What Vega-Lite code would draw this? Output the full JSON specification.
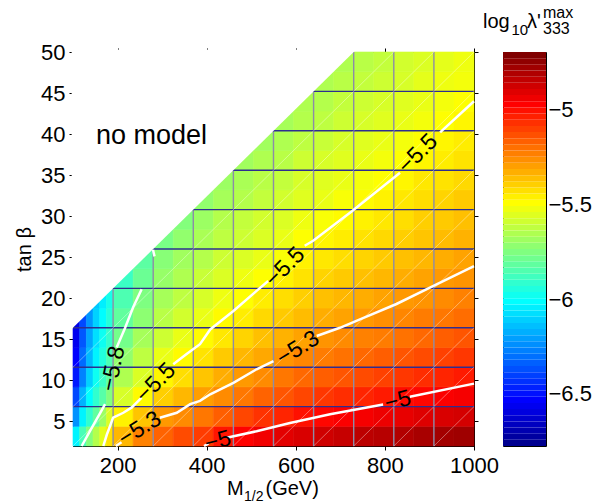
{
  "$schema": "https://vega.github.io/schema/vega-lite/v6.json",
  "background": "white",
  "padding": {"left": 14, "top": 4, "right": 0, "bottom": 0},
  "bounds": "flush",
  "spacing": 29,
  "config": {
    "font": "Liberation Sans",
    "view": {"stroke": "black", "strokeWidth": 1},
    "axis": {"grid": false, "domainColor": "black", "tickColor": "black", "labelColor": "black", "labelFont": "Liberation Sans", "labelFontSize": 22, "titleFont": "Liberation Sans", "titleFontSize": 20, "titleColor": "black", "titleFontWeight": "normal", "tickSize": 4, "zindex": 1, "labelFlush": false, "labelOverlap": false},
    "text": {"font": "Liberation Sans", "color": "black"}
  },
  "datasets": {
    "heat": [
      {"x":100,"x2":115,"y":2,"y2":4.4,"v":-6.05},{"x":100,"x2":115,"y":4.4,"y2":6.8,"v":-6.25},{"x":100,"x2":115,"y":6.8,"y2":9.2,"v":-6.4},{"x":100,"x2":115,"y":9.2,"y2":11.6,"v":-6.5},{"x":100,"x2":115,"y":11.6,"y2":14,"v":-6.55},{"x":100,"x2":115,"y":14,"y2":16.4,"v":-6.58},{"x":100,"x2":115,"y":16.4,"y2":18.8,"v":-6.6},
      {"x":115,"x2":130,"y":2,"y2":4.4,"v":-5.88},{"x":115,"x2":130,"y":4.4,"y2":6.8,"v":-6.05},{"x":115,"x2":130,"y":6.8,"y2":9.2,"v":-6.18},{"x":115,"x2":130,"y":9.2,"y2":11.6,"v":-6.28},{"x":115,"x2":130,"y":11.6,"y2":14,"v":-6.33},{"x":115,"x2":130,"y":14,"y2":16.4,"v":-6.37},{"x":115,"x2":130,"y":16.4,"y2":18.8,"v":-6.4},
      {"x":130,"x2":145,"y":2,"y2":4.4,"v":-5.76},{"x":130,"x2":145,"y":4.4,"y2":6.8,"v":-5.93},{"x":130,"x2":145,"y":6.8,"y2":9.2,"v":-6.03},{"x":130,"x2":145,"y":9.2,"y2":11.6,"v":-6.12},{"x":130,"x2":145,"y":11.6,"y2":14,"v":-6.17},{"x":130,"x2":145,"y":14,"y2":16.4,"v":-6.21},{"x":130,"x2":145,"y":16.4,"y2":18.8,"v":-6.24},
      {"x":145,"x2":160,"y":2,"y2":4.4,"v":-5.66},{"x":145,"x2":160,"y":4.4,"y2":6.8,"v":-5.83},{"x":145,"x2":160,"y":6.8,"y2":9.2,"v":-5.93},{"x":145,"x2":160,"y":9.2,"y2":11.6,"v":-6.0},{"x":145,"x2":160,"y":11.6,"y2":14,"v":-6.05},{"x":145,"x2":160,"y":14,"y2":16.4,"v":-6.09},{"x":145,"x2":160,"y":16.4,"y2":18.8,"v":-6.12},{"x":145,"x2":160,"y":18.8,"y2":21.2,"v":-6.14},
      {"x":160,"x2":175,"y":2,"y2":4.4,"v":-5.56},{"x":160,"x2":175,"y":4.4,"y2":6.8,"v":-5.71},{"x":160,"x2":175,"y":6.8,"y2":9.2,"v":-5.85},{"x":160,"x2":175,"y":9.2,"y2":11.6,"v":-5.91},{"x":160,"x2":175,"y":11.6,"y2":14,"v":-5.96},{"x":160,"x2":175,"y":14,"y2":16.4,"v":-6.0},{"x":160,"x2":175,"y":16.4,"y2":18.8,"v":-6.03},{"x":160,"x2":175,"y":18.8,"y2":21.2,"v":-6.06},
      {"x":175,"x2":190,"y":2,"y2":4.4,"v":-5.45},{"x":175,"x2":190,"y":4.4,"y2":6.8,"v":-5.58},{"x":175,"x2":190,"y":6.8,"y2":9.2,"v":-5.76},{"x":175,"x2":190,"y":9.2,"y2":11.6,"v":-5.83},{"x":175,"x2":190,"y":11.6,"y2":14,"v":-5.87},{"x":175,"x2":190,"y":14,"y2":16.4,"v":-5.92},{"x":175,"x2":190,"y":16.4,"y2":18.8,"v":-5.95},{"x":175,"x2":190,"y":18.8,"y2":21.2,"v":-5.98},
      {"x":190,"x2":235,"y":2,"y2":4.4,"v":-5.36},{"x":190,"x2":235,"y":4.4,"y2":6.8,"v":-5.48},{"x":190,"x2":235,"y":6.8,"y2":9.2,"v":-5.59},{"x":190,"x2":235,"y":9.2,"y2":11.6,"v":-5.67},{"x":190,"x2":235,"y":11.6,"y2":14,"v":-5.73},{"x":190,"x2":235,"y":14,"y2":16.4,"v":-5.79},{"x":190,"x2":235,"y":16.4,"y2":18.8,"v":-5.83},{"x":190,"x2":235,"y":18.8,"y2":21.2,"v":-5.87},{"x":190,"x2":235,"y":21.2,"y2":23.6,"v":-5.91},
      {"x":235,"x2":280,"y":2,"y2":4.4,"v":-5.25},{"x":235,"x2":280,"y":4.4,"y2":6.8,"v":-5.39},{"x":235,"x2":280,"y":6.8,"y2":9.2,"v":-5.5},{"x":235,"x2":280,"y":9.2,"y2":11.6,"v":-5.58},{"x":235,"x2":280,"y":11.6,"y2":14,"v":-5.64},{"x":235,"x2":280,"y":14,"y2":16.4,"v":-5.69},{"x":235,"x2":280,"y":16.4,"y2":18.8,"v":-5.74},{"x":235,"x2":280,"y":18.8,"y2":21.2,"v":-5.77},{"x":235,"x2":280,"y":21.2,"y2":23.6,"v":-5.81},{"x":235,"x2":280,"y":23.6,"y2":26,"v":-5.84},
      {"x":280,"x2":325,"y":2,"y2":4.4,"v":-5.19},{"x":280,"x2":325,"y":4.4,"y2":6.8,"v":-5.3},{"x":280,"x2":325,"y":6.8,"y2":9.2,"v":-5.41},{"x":280,"x2":325,"y":9.2,"y2":11.6,"v":-5.49},{"x":280,"x2":325,"y":11.6,"y2":14,"v":-5.55},{"x":280,"x2":325,"y":14,"y2":16.4,"v":-5.61},{"x":280,"x2":325,"y":16.4,"y2":18.8,"v":-5.65},{"x":280,"x2":325,"y":18.8,"y2":21.2,"v":-5.69},{"x":280,"x2":325,"y":21.2,"y2":23.6,"v":-5.72},{"x":280,"x2":325,"y":23.6,"y2":26,"v":-5.75},{"x":280,"x2":325,"y":26,"y2":28.4,"v":-5.78},
      {"x":325,"x2":370,"y":2,"y2":4.4,"v":-5.14},{"x":325,"x2":370,"y":4.4,"y2":6.8,"v":-5.27},{"x":325,"x2":370,"y":6.8,"y2":9.2,"v":-5.36},{"x":325,"x2":370,"y":9.2,"y2":11.6,"v":-5.44},{"x":325,"x2":370,"y":11.6,"y2":14,"v":-5.5},{"x":325,"x2":370,"y":14,"y2":16.4,"v":-5.55},{"x":325,"x2":370,"y":16.4,"y2":18.8,"v":-5.6},{"x":325,"x2":370,"y":18.8,"y2":21.2,"v":-5.64},{"x":325,"x2":370,"y":21.2,"y2":23.6,"v":-5.67},{"x":325,"x2":370,"y":23.6,"y2":26,"v":-5.7},{"x":325,"x2":370,"y":26,"y2":28.4,"v":-5.73},{"x":325,"x2":370,"y":28.4,"y2":30.8,"v":-5.76},
      {"x":370,"x2":415,"y":2,"y2":4.4,"v":-5.11},{"x":370,"x2":415,"y":4.4,"y2":6.8,"v":-5.23},{"x":370,"x2":415,"y":6.8,"y2":9.2,"v":-5.31},{"x":370,"x2":415,"y":9.2,"y2":11.6,"v":-5.39},{"x":370,"x2":415,"y":11.6,"y2":14,"v":-5.45},{"x":370,"x2":415,"y":14,"y2":16.4,"v":-5.5},{"x":370,"x2":415,"y":16.4,"y2":18.8,"v":-5.55},{"x":370,"x2":415,"y":18.8,"y2":21.2,"v":-5.59},{"x":370,"x2":415,"y":21.2,"y2":23.6,"v":-5.62},{"x":370,"x2":415,"y":23.6,"y2":26,"v":-5.66},{"x":370,"x2":415,"y":26,"y2":28.4,"v":-5.68},{"x":370,"x2":415,"y":28.4,"y2":30.8,"v":-5.71},{"x":370,"x2":415,"y":30.8,"y2":33.2,"v":-5.73},
      {"x":415,"x2":460,"y":2,"y2":4.4,"v":-5.03},{"x":415,"x2":460,"y":4.4,"y2":6.8,"v":-5.18},{"x":415,"x2":460,"y":6.8,"y2":9.2,"v":-5.27},{"x":415,"x2":460,"y":9.2,"y2":11.6,"v":-5.34},{"x":415,"x2":460,"y":11.6,"y2":14,"v":-5.4},{"x":415,"x2":460,"y":14,"y2":16.4,"v":-5.46},{"x":415,"x2":460,"y":16.4,"y2":18.8,"v":-5.5},{"x":415,"x2":460,"y":18.8,"y2":21.2,"v":-5.54},{"x":415,"x2":460,"y":21.2,"y2":23.6,"v":-5.58},{"x":415,"x2":460,"y":23.6,"y2":26,"v":-5.61},{"x":415,"x2":460,"y":26,"y2":28.4,"v":-5.64},{"x":415,"x2":460,"y":28.4,"y2":30.8,"v":-5.66},{"x":415,"x2":460,"y":30.8,"y2":33.2,"v":-5.69},{"x":415,"x2":460,"y":33.2,"y2":35.6,"v":-5.71},
      {"x":460,"x2":505,"y":2,"y2":4.4,"v":-4.99},{"x":460,"x2":505,"y":4.4,"y2":6.8,"v":-5.13},{"x":460,"x2":505,"y":6.8,"y2":9.2,"v":-5.23},{"x":460,"x2":505,"y":9.2,"y2":11.6,"v":-5.3},{"x":460,"x2":505,"y":11.6,"y2":14,"v":-5.36},{"x":460,"x2":505,"y":14,"y2":16.4,"v":-5.42},{"x":460,"x2":505,"y":16.4,"y2":18.8,"v":-5.47},{"x":460,"x2":505,"y":18.8,"y2":21.2,"v":-5.51},{"x":460,"x2":505,"y":21.2,"y2":23.6,"v":-5.54},{"x":460,"x2":505,"y":23.6,"y2":26,"v":-5.58},{"x":460,"x2":505,"y":26,"y2":28.4,"v":-5.61},{"x":460,"x2":505,"y":28.4,"y2":30.8,"v":-5.63},{"x":460,"x2":505,"y":30.8,"y2":33.2,"v":-5.66},{"x":460,"x2":505,"y":33.2,"y2":35.6,"v":-5.68},{"x":460,"x2":505,"y":35.6,"y2":38,"v":-5.7},
      {"x":505,"x2":550,"y":2,"y2":4.4,"v":-4.96},{"x":505,"x2":550,"y":4.4,"y2":6.8,"v":-5.09},{"x":505,"x2":550,"y":6.8,"y2":9.2,"v":-5.19},{"x":505,"x2":550,"y":9.2,"y2":11.6,"v":-5.27},{"x":505,"x2":550,"y":11.6,"y2":14,"v":-5.33},{"x":505,"x2":550,"y":14,"y2":16.4,"v":-5.38},{"x":505,"x2":550,"y":16.4,"y2":18.8,"v":-5.43},{"x":505,"x2":550,"y":18.8,"y2":21.2,"v":-5.47},{"x":505,"x2":550,"y":21.2,"y2":23.6,"v":-5.51},{"x":505,"x2":550,"y":23.6,"y2":26,"v":-5.55},{"x":505,"x2":550,"y":26,"y2":28.4,"v":-5.58},{"x":505,"x2":550,"y":28.4,"y2":30.8,"v":-5.6},{"x":505,"x2":550,"y":30.8,"y2":33.2,"v":-5.63},{"x":505,"x2":550,"y":33.2,"y2":35.6,"v":-5.65},{"x":505,"x2":550,"y":35.6,"y2":38,"v":-5.67},{"x":505,"x2":550,"y":38,"y2":40.4,"v":-5.7},
      {"x":550,"x2":595,"y":2,"y2":4.4,"v":-4.93},{"x":550,"x2":595,"y":4.4,"y2":6.8,"v":-5.06},{"x":550,"x2":595,"y":6.8,"y2":9.2,"v":-5.16},{"x":550,"x2":595,"y":9.2,"y2":11.6,"v":-5.23},{"x":550,"x2":595,"y":11.6,"y2":14,"v":-5.29},{"x":550,"x2":595,"y":14,"y2":16.4,"v":-5.35},{"x":550,"x2":595,"y":16.4,"y2":18.8,"v":-5.4},{"x":550,"x2":595,"y":18.8,"y2":21.2,"v":-5.44},{"x":550,"x2":595,"y":21.2,"y2":23.6,"v":-5.48},{"x":550,"x2":595,"y":23.6,"y2":26,"v":-5.52},{"x":550,"x2":595,"y":26,"y2":28.4,"v":-5.55},{"x":550,"x2":595,"y":28.4,"y2":30.8,"v":-5.58},{"x":550,"x2":595,"y":30.8,"y2":33.2,"v":-5.6},{"x":550,"x2":595,"y":33.2,"y2":35.6,"v":-5.63},{"x":550,"x2":595,"y":35.6,"y2":38,"v":-5.65},{"x":550,"x2":595,"y":38,"y2":40.4,"v":-5.67},{"x":550,"x2":595,"y":40.4,"y2":42.8,"v":-5.69},
      {"x":595,"x2":640,"y":2,"y2":4.4,"v":-4.91},{"x":595,"x2":640,"y":4.4,"y2":6.8,"v":-5.02},{"x":595,"x2":640,"y":6.8,"y2":9.2,"v":-5.13},{"x":595,"x2":640,"y":9.2,"y2":11.6,"v":-5.2},{"x":595,"x2":640,"y":11.6,"y2":14,"v":-5.26},{"x":595,"x2":640,"y":14,"y2":16.4,"v":-5.32},{"x":595,"x2":640,"y":16.4,"y2":18.8,"v":-5.37},{"x":595,"x2":640,"y":18.8,"y2":21.2,"v":-5.41},{"x":595,"x2":640,"y":21.2,"y2":23.6,"v":-5.45},{"x":595,"x2":640,"y":23.6,"y2":26,"v":-5.48},{"x":595,"x2":640,"y":26,"y2":28.4,"v":-5.51},{"x":595,"x2":640,"y":28.4,"y2":30.8,"v":-5.54},{"x":595,"x2":640,"y":30.8,"y2":33.2,"v":-5.57},{"x":595,"x2":640,"y":33.2,"y2":35.6,"v":-5.59},{"x":595,"x2":640,"y":35.6,"y2":38,"v":-5.61},{"x":595,"x2":640,"y":38,"y2":40.4,"v":-5.64},{"x":595,"x2":640,"y":40.4,"y2":42.8,"v":-5.66},{"x":595,"x2":640,"y":42.8,"y2":45.2,"v":-5.67},
      {"x":640,"x2":685,"y":2,"y2":4.4,"v":-4.89},{"x":640,"x2":685,"y":4.4,"y2":6.8,"v":-5.0},{"x":640,"x2":685,"y":6.8,"y2":9.2,"v":-5.1},{"x":640,"x2":685,"y":9.2,"y2":11.6,"v":-5.18},{"x":640,"x2":685,"y":11.6,"y2":14,"v":-5.24},{"x":640,"x2":685,"y":14,"y2":16.4,"v":-5.29},{"x":640,"x2":685,"y":16.4,"y2":18.8,"v":-5.34},{"x":640,"x2":685,"y":18.8,"y2":21.2,"v":-5.38},{"x":640,"x2":685,"y":21.2,"y2":23.6,"v":-5.42},{"x":640,"x2":685,"y":23.6,"y2":26,"v":-5.46},{"x":640,"x2":685,"y":26,"y2":28.4,"v":-5.49},{"x":640,"x2":685,"y":28.4,"y2":30.8,"v":-5.52},{"x":640,"x2":685,"y":30.8,"y2":33.2,"v":-5.55},{"x":640,"x2":685,"y":33.2,"y2":35.6,"v":-5.57},{"x":640,"x2":685,"y":35.6,"y2":38,"v":-5.59},{"x":640,"x2":685,"y":38,"y2":40.4,"v":-5.62},{"x":640,"x2":685,"y":40.4,"y2":42.8,"v":-5.64},{"x":640,"x2":685,"y":42.8,"y2":45.2,"v":-5.66},{"x":640,"x2":685,"y":45.2,"y2":47.6,"v":-5.67},
      {"x":685,"x2":730,"y":2,"y2":4.4,"v":-4.87},{"x":685,"x2":730,"y":4.4,"y2":6.8,"v":-4.98},{"x":685,"x2":730,"y":6.8,"y2":9.2,"v":-5.08},{"x":685,"x2":730,"y":9.2,"y2":11.6,"v":-5.16},{"x":685,"x2":730,"y":11.6,"y2":14,"v":-5.22},{"x":685,"x2":730,"y":14,"y2":16.4,"v":-5.27},{"x":685,"x2":730,"y":16.4,"y2":18.8,"v":-5.32},{"x":685,"x2":730,"y":18.8,"y2":21.2,"v":-5.36},{"x":685,"x2":730,"y":21.2,"y2":23.6,"v":-5.4},{"x":685,"x2":730,"y":23.6,"y2":26,"v":-5.44},{"x":685,"x2":730,"y":26,"y2":28.4,"v":-5.47},{"x":685,"x2":730,"y":28.4,"y2":30.8,"v":-5.5},{"x":685,"x2":730,"y":30.8,"y2":33.2,"v":-5.52},{"x":685,"x2":730,"y":33.2,"y2":35.6,"v":-5.55},{"x":685,"x2":730,"y":35.6,"y2":38,"v":-5.57},{"x":685,"x2":730,"y":38,"y2":40.4,"v":-5.59},{"x":685,"x2":730,"y":40.4,"y2":42.8,"v":-5.61},{"x":685,"x2":730,"y":42.8,"y2":45.2,"v":-5.63},{"x":685,"x2":730,"y":45.2,"y2":47.6,"v":-5.65},{"x":685,"x2":730,"y":47.6,"y2":50,"v":-5.67},
      {"x":730,"x2":775,"y":2,"y2":4.4,"v":-4.85},{"x":730,"x2":775,"y":4.4,"y2":6.8,"v":-4.97},{"x":730,"x2":775,"y":6.8,"y2":9.2,"v":-5.06},{"x":730,"x2":775,"y":9.2,"y2":11.6,"v":-5.14},{"x":730,"x2":775,"y":11.6,"y2":14,"v":-5.2},{"x":730,"x2":775,"y":14,"y2":16.4,"v":-5.25},{"x":730,"x2":775,"y":16.4,"y2":18.8,"v":-5.3},{"x":730,"x2":775,"y":18.8,"y2":21.2,"v":-5.34},{"x":730,"x2":775,"y":21.2,"y2":23.6,"v":-5.38},{"x":730,"x2":775,"y":23.6,"y2":26,"v":-5.42},{"x":730,"x2":775,"y":26,"y2":28.4,"v":-5.45},{"x":730,"x2":775,"y":28.4,"y2":30.8,"v":-5.48},{"x":730,"x2":775,"y":30.8,"y2":33.2,"v":-5.5},{"x":730,"x2":775,"y":33.2,"y2":35.6,"v":-5.53},{"x":730,"x2":775,"y":35.6,"y2":38,"v":-5.55},{"x":730,"x2":775,"y":38,"y2":40.4,"v":-5.57},{"x":730,"x2":775,"y":40.4,"y2":42.8,"v":-5.59},{"x":730,"x2":775,"y":42.8,"y2":45.2,"v":-5.61},{"x":730,"x2":775,"y":45.2,"y2":47.6,"v":-5.63},{"x":730,"x2":775,"y":47.6,"y2":50,"v":-5.65},
      {"x":775,"x2":820,"y":2,"y2":4.4,"v":-4.84},{"x":775,"x2":820,"y":4.4,"y2":6.8,"v":-4.95},{"x":775,"x2":820,"y":6.8,"y2":9.2,"v":-5.04},{"x":775,"x2":820,"y":9.2,"y2":11.6,"v":-5.12},{"x":775,"x2":820,"y":11.6,"y2":14,"v":-5.18},{"x":775,"x2":820,"y":14,"y2":16.4,"v":-5.24},{"x":775,"x2":820,"y":16.4,"y2":18.8,"v":-5.28},{"x":775,"x2":820,"y":18.8,"y2":21.2,"v":-5.32},{"x":775,"x2":820,"y":21.2,"y2":23.6,"v":-5.36},{"x":775,"x2":820,"y":23.6,"y2":26,"v":-5.4},{"x":775,"x2":820,"y":26,"y2":28.4,"v":-5.43},{"x":775,"x2":820,"y":28.4,"y2":30.8,"v":-5.46},{"x":775,"x2":820,"y":30.8,"y2":33.2,"v":-5.48},{"x":775,"x2":820,"y":33.2,"y2":35.6,"v":-5.51},{"x":775,"x2":820,"y":35.6,"y2":38,"v":-5.53},{"x":775,"x2":820,"y":38,"y2":40.4,"v":-5.55},{"x":775,"x2":820,"y":40.4,"y2":42.8,"v":-5.57},{"x":775,"x2":820,"y":42.8,"y2":45.2,"v":-5.59},{"x":775,"x2":820,"y":45.2,"y2":47.6,"v":-5.61},{"x":775,"x2":820,"y":47.6,"y2":50,"v":-5.63},
      {"x":820,"x2":865,"y":2,"y2":4.4,"v":-4.83},{"x":820,"x2":865,"y":4.4,"y2":6.8,"v":-4.94},{"x":820,"x2":865,"y":6.8,"y2":9.2,"v":-5.01},{"x":820,"x2":865,"y":9.2,"y2":11.6,"v":-5.1},{"x":820,"x2":865,"y":11.6,"y2":14,"v":-5.16},{"x":820,"x2":865,"y":14,"y2":16.4,"v":-5.22},{"x":820,"x2":865,"y":16.4,"y2":18.8,"v":-5.26},{"x":820,"x2":865,"y":18.8,"y2":21.2,"v":-5.3},{"x":820,"x2":865,"y":21.2,"y2":23.6,"v":-5.34},{"x":820,"x2":865,"y":23.6,"y2":26,"v":-5.38},{"x":820,"x2":865,"y":26,"y2":28.4,"v":-5.41},{"x":820,"x2":865,"y":28.4,"y2":30.8,"v":-5.44},{"x":820,"x2":865,"y":30.8,"y2":33.2,"v":-5.46},{"x":820,"x2":865,"y":33.2,"y2":35.6,"v":-5.49},{"x":820,"x2":865,"y":35.6,"y2":38,"v":-5.51},{"x":820,"x2":865,"y":38,"y2":40.4,"v":-5.53},{"x":820,"x2":865,"y":40.4,"y2":42.8,"v":-5.55},{"x":820,"x2":865,"y":42.8,"y2":45.2,"v":-5.57},{"x":820,"x2":865,"y":45.2,"y2":47.6,"v":-5.59},{"x":820,"x2":865,"y":47.6,"y2":50,"v":-5.6},
      {"x":865,"x2":910,"y":2,"y2":4.4,"v":-4.81},{"x":865,"x2":910,"y":4.4,"y2":6.8,"v":-4.92},{"x":865,"x2":910,"y":6.8,"y2":9.2,"v":-5.0},{"x":865,"x2":910,"y":9.2,"y2":11.6,"v":-5.08},{"x":865,"x2":910,"y":11.6,"y2":14,"v":-5.14},{"x":865,"x2":910,"y":14,"y2":16.4,"v":-5.2},{"x":865,"x2":910,"y":16.4,"y2":18.8,"v":-5.24},{"x":865,"x2":910,"y":18.8,"y2":21.2,"v":-5.29},{"x":865,"x2":910,"y":21.2,"y2":23.6,"v":-5.32},{"x":865,"x2":910,"y":23.6,"y2":26,"v":-5.36},{"x":865,"x2":910,"y":26,"y2":28.4,"v":-5.39},{"x":865,"x2":910,"y":28.4,"y2":30.8,"v":-5.41},{"x":865,"x2":910,"y":30.8,"y2":33.2,"v":-5.44},{"x":865,"x2":910,"y":33.2,"y2":35.6,"v":-5.46},{"x":865,"x2":910,"y":35.6,"y2":38,"v":-5.49},{"x":865,"x2":910,"y":38,"y2":40.4,"v":-5.51},{"x":865,"x2":910,"y":40.4,"y2":42.8,"v":-5.53},{"x":865,"x2":910,"y":42.8,"y2":45.2,"v":-5.55},{"x":865,"x2":910,"y":45.2,"y2":47.6,"v":-5.56},{"x":865,"x2":910,"y":47.6,"y2":50,"v":-5.58},
      {"x":910,"x2":955,"y":2,"y2":4.4,"v":-4.8},{"x":910,"x2":955,"y":4.4,"y2":6.8,"v":-4.91},{"x":910,"x2":955,"y":6.8,"y2":9.2,"v":-4.98},{"x":910,"x2":955,"y":9.2,"y2":11.6,"v":-5.06},{"x":910,"x2":955,"y":11.6,"y2":14,"v":-5.12},{"x":910,"x2":955,"y":14,"y2":16.4,"v":-5.18},{"x":910,"x2":955,"y":16.4,"y2":18.8,"v":-5.23},{"x":910,"x2":955,"y":18.8,"y2":21.2,"v":-5.27},{"x":910,"x2":955,"y":21.2,"y2":23.6,"v":-5.3},{"x":910,"x2":955,"y":23.6,"y2":26,"v":-5.34},{"x":910,"x2":955,"y":26,"y2":28.4,"v":-5.37},{"x":910,"x2":955,"y":28.4,"y2":30.8,"v":-5.4},{"x":910,"x2":955,"y":30.8,"y2":33.2,"v":-5.42},{"x":910,"x2":955,"y":33.2,"y2":35.6,"v":-5.45},{"x":910,"x2":955,"y":35.6,"y2":38,"v":-5.47},{"x":910,"x2":955,"y":38,"y2":40.4,"v":-5.49},{"x":910,"x2":955,"y":40.4,"y2":42.8,"v":-5.51},{"x":910,"x2":955,"y":42.8,"y2":45.2,"v":-5.53},{"x":910,"x2":955,"y":45.2,"y2":47.6,"v":-5.54},{"x":910,"x2":955,"y":47.6,"y2":50,"v":-5.56},
      {"x":955,"x2":1000,"y":2,"y2":4.4,"v":-4.79},{"x":955,"x2":1000,"y":4.4,"y2":6.8,"v":-4.9},{"x":955,"x2":1000,"y":6.8,"y2":9.2,"v":-4.97},{"x":955,"x2":1000,"y":9.2,"y2":11.6,"v":-5.04},{"x":955,"x2":1000,"y":11.6,"y2":14,"v":-5.1},{"x":955,"x2":1000,"y":14,"y2":16.4,"v":-5.16},{"x":955,"x2":1000,"y":16.4,"y2":18.8,"v":-5.21},{"x":955,"x2":1000,"y":18.8,"y2":21.2,"v":-5.25},{"x":955,"x2":1000,"y":21.2,"y2":23.6,"v":-5.29},{"x":955,"x2":1000,"y":23.6,"y2":26,"v":-5.32},{"x":955,"x2":1000,"y":26,"y2":28.4,"v":-5.35},{"x":955,"x2":1000,"y":28.4,"y2":30.8,"v":-5.38},{"x":955,"x2":1000,"y":30.8,"y2":33.2,"v":-5.4},{"x":955,"x2":1000,"y":33.2,"y2":35.6,"v":-5.43},{"x":955,"x2":1000,"y":35.6,"y2":38,"v":-5.45},{"x":955,"x2":1000,"y":38,"y2":40.4,"v":-5.47},{"x":955,"x2":1000,"y":40.4,"y2":42.8,"v":-5.49},{"x":955,"x2":1000,"y":42.8,"y2":45.2,"v":-5.51},{"x":955,"x2":1000,"y":45.2,"y2":47.6,"v":-5.53},{"x":955,"x2":1000,"y":47.6,"y2":50,"v":-5.54}
    ],
    "hgrid": [{"y":6.8},{"y":11.6},{"y":16.4},{"y":21.2},{"y":26},{"y":30.8},{"y":35.6},{"y":40.4},{"y":45.2}],
    "vgrid": [{"x":190},{"x":280},{"x":370},{"x":460},{"x":550},{"x":640},{"x":730},{"x":820},{"x":910}],
    "diag": [
      {"x":100,"y":2,"x2":1000,"y2":50},{"x":190,"y":2,"x2":1000,"y2":45.2},{"x":280,"y":2,"x2":1000,"y2":40.4},{"x":370,"y":2,"x2":1000,"y2":35.6},{"x":460,"y":2,"x2":1000,"y2":30.8},{"x":550,"y":2,"x2":1000,"y2":26},{"x":640,"y":2,"x2":1000,"y2":21.2},{"x":730,"y":2,"x2":1000,"y2":16.4},{"x":820,"y":2,"x2":1000,"y2":11.6},{"x":910,"y":2,"x2":1000,"y2":6.8},{"x":100,"y":6.8,"x2":910,"y2":50},{"x":100,"y":11.6,"x2":820,"y2":50}
    ],
    "nomodel": [{"x":97,"y":16.24},{"x":730,"y":50},{"x":735,"y":50.27}],
    "lines": [
      {"seg":"a1","x":119.5,"y":2},{"seg":"a1","x":138,"y":3.8},{"seg":"a1","x":164,"y":6.3},{"seg":"a1","x":172,"y":7.1},
      {"seg":"a2","x":198,"y":14},{"seg":"a2","x":217,"y":16.4},{"seg":"a2","x":235,"y":18.9},{"seg":"a2","x":254,"y":21.1},
      {"seg":"a3","x":279.5,"y":25.9},{"seg":"a3","x":283,"y":25.1},
      {"seg":"b1","x":168,"y":2},{"seg":"b1","x":176,"y":3.4},{"seg":"b1","x":183,"y":4.4},{"seg":"b1","x":190,"y":5.45},{"seg":"b1","x":213,"y":6.05},{"seg":"b1","x":232,"y":6.7},{"seg":"b1","x":254,"y":7.9},
      {"seg":"b2","x":325,"y":11.95},{"seg":"b2","x":355,"y":13.2},{"seg":"b2","x":385,"y":14.4},{"seg":"b2","x":408,"y":16.2},{"seg":"b2","x":460,"y":18.45},{"seg":"b2","x":512,"y":20.9},{"seg":"b2","x":538,"y":22.1},
      {"seg":"b3","x":620,"y":26.4},{"seg":"b3","x":639,"y":27},{"seg":"b3","x":726,"y":30.6},{"seg":"b3","x":834,"y":35.3},
      {"seg":"b4","x":924,"y":40.2},{"seg":"b4","x":1000,"y":44},
      {"seg":"c1","x":196,"y":2},{"seg":"c1","x":209,"y":2.45},
      {"seg":"c2","x":295,"y":5.45},{"seg":"c2","x":333,"y":6.05},{"seg":"c2","x":363,"y":7.1},{"seg":"c2","x":385,"y":7.5},{"seg":"c2","x":408,"y":8.3},{"seg":"c2","x":460,"y":9.7},{"seg":"c2","x":512,"y":11.35},{"seg":"c2","x":550,"y":12.35},
      {"seg":"c3","x":647,"y":15.4},{"seg":"c3","x":699,"y":16.4},{"seg":"c3","x":752,"y":17.6},{"seg":"c3","x":826,"y":19.3},{"seg":"c3","x":901,"y":21.3},{"seg":"c3","x":1000,"y":23.9},
      {"seg":"d1","x":394,"y":2},{"seg":"d1","x":404,"y":2.3},
      {"seg":"d2","x":445,"y":3},{"seg":"d2","x":512,"y":3.8},{"seg":"d2","x":587,"y":4.8},{"seg":"d2","x":677,"y":5.86},{"seg":"d2","x":796,"y":7.05},
      {"seg":"d3","x":856,"y":8},{"seg":"d3","x":1000,"y":9.6}
    ],
    "labels": [
      {"g":"A","x":189.8,"y":11.4,"t":"−5.8"},
      {"g":"B","x":286,"y":9.7,"t":"−5.5"},{"g":"B","x":575.8,"y":23.8,"t":"−5.5"},{"g":"B","x":874,"y":37.6,"t":"−5.5"},
      {"g":"C","x":250,"y":4.1,"t":"−5.3"},{"g":"C","x":605,"y":13.9,"t":"−5.3"},
      {"g":"D","x":829,"y":7.5,"t":"−5"},
      {"g":"E","x":425,"y":2.6,"t":"−5"}
    ],
    "bands": [
      {"lo":-6.775,"hi":-6.7425},{"lo":-6.7425,"hi":-6.71},{"lo":-6.71,"hi":-6.6775},{"lo":-6.6775,"hi":-6.645},{"lo":-6.645,"hi":-6.6125},{"lo":-6.6125,"hi":-6.58},{"lo":-6.58,"hi":-6.5475},{"lo":-6.5475,"hi":-6.515},
      {"lo":-6.515,"hi":-6.4825},{"lo":-6.4825,"hi":-6.45},{"lo":-6.45,"hi":-6.4175},{"lo":-6.4175,"hi":-6.385},{"lo":-6.385,"hi":-6.3525},{"lo":-6.3525,"hi":-6.32},{"lo":-6.32,"hi":-6.2875},{"lo":-6.2875,"hi":-6.255},
      {"lo":-6.255,"hi":-6.2225},{"lo":-6.2225,"hi":-6.19},{"lo":-6.19,"hi":-6.1575},{"lo":-6.1575,"hi":-6.125},{"lo":-6.125,"hi":-6.0925},{"lo":-6.0925,"hi":-6.06},{"lo":-6.06,"hi":-6.0275},{"lo":-6.0275,"hi":-5.995},
      {"lo":-5.995,"hi":-5.9625},{"lo":-5.9625,"hi":-5.93},{"lo":-5.93,"hi":-5.8975},{"lo":-5.8975,"hi":-5.865},{"lo":-5.865,"hi":-5.8325},{"lo":-5.8325,"hi":-5.8},{"lo":-5.8,"hi":-5.7675},{"lo":-5.7675,"hi":-5.735},
      {"lo":-5.735,"hi":-5.7025},{"lo":-5.7025,"hi":-5.67},{"lo":-5.67,"hi":-5.6375},{"lo":-5.6375,"hi":-5.605},{"lo":-5.605,"hi":-5.5725},{"lo":-5.5725,"hi":-5.54},{"lo":-5.54,"hi":-5.5075},{"lo":-5.5075,"hi":-5.475},
      {"lo":-5.475,"hi":-5.4425},{"lo":-5.4425,"hi":-5.41},{"lo":-5.41,"hi":-5.3775},{"lo":-5.3775,"hi":-5.345},{"lo":-5.345,"hi":-5.3125},{"lo":-5.3125,"hi":-5.28},{"lo":-5.28,"hi":-5.2475},{"lo":-5.2475,"hi":-5.215},
      {"lo":-5.215,"hi":-5.1825},{"lo":-5.1825,"hi":-5.15},{"lo":-5.15,"hi":-5.1175},{"lo":-5.1175,"hi":-5.085},{"lo":-5.085,"hi":-5.0525},{"lo":-5.0525,"hi":-5.02},{"lo":-5.02,"hi":-4.9875},{"lo":-4.9875,"hi":-4.955},
      {"lo":-4.955,"hi":-4.9225},{"lo":-4.9225,"hi":-4.89},{"lo":-4.89,"hi":-4.8575},{"lo":-4.8575,"hi":-4.825},{"lo":-4.825,"hi":-4.7925},{"lo":-4.7925,"hi":-4.76},{"lo":-4.76,"hi":-4.7275},{"lo":-4.7275,"hi":-4.695}
    ]
  },
  "hconcat": [
    {
      "width": 401,
      "height": 394,
      "layer": [
        {
          "data": {"name": "heat"},
          "mark": {"type": "rect", "strokeWidth": 0.6},
          "encoding": {
            "x": {"field": "x", "type": "quantitative", "scale": {"domain": [100, 1000], "nice": false, "zero": false}, "axis": {"orient": "bottom", "values": [200, 400, 600, 800, 1000], "format": "d", "labelPadding": 5, "title": null}},
            "x2": {"field": "x2"},
            "y": {"field": "y", "type": "quantitative", "scale": {"domain": [2, 50], "nice": false, "zero": false}, "axis": {"orient": "left", "values": [5, 10, 15, 20, 25, 30, 35, 40, 45, 50], "format": "d", "labelPadding": 4, "title": "tan β", "titlePadding": 6}},
            "y2": {"field": "y2"},
            "color": {"field": "v", "type": "quantitative", "scale": {"type": "linear", "domain": [-6.775, -6.5475, -6.0275, -5.5075, -4.9875, -4.7275], "range": ["#000090", "#0000ff", "#00ffff", "#ffff00", "#ff0000", "#800000"], "interpolate": "rgb", "clamp": true}, "legend": null},
            "stroke": {"field": "v", "type": "quantitative", "scale": {"type": "linear", "domain": [-6.775, -6.5475, -6.0275, -5.5075, -4.9875, -4.7275], "range": ["#000090", "#0000ff", "#00ffff", "#ffff00", "#ff0000", "#800000"], "interpolate": "rgb", "clamp": true}, "legend": null}
          }
        },
        {
          "data": {"name": "vgrid"},
          "mark": {"type": "rule", "color": "#8c8ca8", "strokeWidth": 1.4},
          "encoding": {
            "x": {"field": "x", "type": "quantitative", "axis": {"orient": "top", "values": [200, 400, 600, 800, 1000], "labels": false, "title": null}}
          }
        },
        {
          "data": {"name": "hgrid"},
          "mark": {"type": "rule", "color": "#2e2e90", "strokeWidth": 1.4},
          "encoding": {
            "y": {"field": "y", "type": "quantitative", "axis": {"orient": "right", "values": [5, 10, 15, 20, 25, 30, 35, 40, 45, 50], "labels": false, "title": null}}
          }
        },
        {
          "data": {"name": "diag"},
          "mark": {"type": "rule", "color": "white", "strokeWidth": 0.7, "opacity": 0.55},
          "encoding": {
            "x": {"field": "x", "type": "quantitative", "axis": null},
            "y": {"field": "y", "type": "quantitative", "axis": null},
            "x2": {"field": "x2"},
            "y2": {"field": "y2"}
          }
        },
        {
          "data": {"name": "nomodel"},
          "mark": {"type": "area", "color": "white", "opacity": 1, "clip": false},
          "encoding": {
            "x": {"field": "x", "type": "quantitative", "axis": null},
            "y": {"field": "y", "type": "quantitative", "axis": null},
            "y2": {"datum": 50.3}
          }
        },
        {
          "data": {"name": "lines"},
          "mark": {"type": "line", "color": "white", "strokeWidth": 2.5},
          "encoding": {
            "x": {"field": "x", "type": "quantitative", "axis": null},
            "y": {"field": "y", "type": "quantitative", "axis": null},
            "detail": {"field": "seg", "type": "nominal"}
          }
        },
        {
          "data": {"name": "labels"},
          "transform": [{"filter": "datum.g == 'A'"}],
          "mark": {"type": "text", "angle": 282, "fontSize": 23, "align": "center", "baseline": "middle"},
          "encoding": {"x": {"field": "x", "type": "quantitative", "axis": null}, "y": {"field": "y", "type": "quantitative", "axis": null}, "text": {"field": "t"}}
        },
        {
          "data": {"name": "labels"},
          "transform": [{"filter": "datum.g == 'B'"}],
          "mark": {"type": "text", "angle": 315, "fontSize": 23, "align": "center", "baseline": "middle"},
          "encoding": {"x": {"field": "x", "type": "quantitative", "axis": null}, "y": {"field": "y", "type": "quantitative", "axis": null}, "text": {"field": "t"}}
        },
        {
          "data": {"name": "labels"},
          "transform": [{"filter": "datum.g == 'C'"}],
          "mark": {"type": "text", "angle": 328, "fontSize": 23, "align": "center", "baseline": "middle"},
          "encoding": {"x": {"field": "x", "type": "quantitative", "axis": null}, "y": {"field": "y", "type": "quantitative", "axis": null}, "text": {"field": "t"}}
        },
        {
          "data": {"name": "labels"},
          "transform": [{"filter": "datum.g == 'D'"}],
          "mark": {"type": "text", "angle": 345, "fontSize": 23, "align": "center", "baseline": "middle"},
          "encoding": {"x": {"field": "x", "type": "quantitative", "axis": null}, "y": {"field": "y", "type": "quantitative", "axis": null}, "text": {"field": "t"}}
        },
        {
          "data": {"name": "labels"},
          "transform": [{"filter": "datum.g == 'E'"}],
          "mark": {"type": "text", "angle": 345, "fontSize": 23, "align": "center", "baseline": "middle", "clip": true},
          "encoding": {"x": {"field": "x", "type": "quantitative", "axis": null}, "y": {"field": "y", "type": "quantitative", "axis": null}, "text": {"field": "t"}}
        },
        {
          "data": {"values": [{"x": 151.6, "y": 38.8, "t": "no model"}]},
          "mark": {"type": "text", "fontSize": 27, "align": "left", "baseline": "alphabetic"},
          "encoding": {"x": {"field": "x", "type": "quantitative", "axis": null}, "y": {"field": "y", "type": "quantitative", "axis": null}, "text": {"field": "t"}}
        },
        {
          "data": {"values": [{}]},
          "mark": {"type": "text", "text": "M", "fontSize": 20, "align": "left", "baseline": "alphabetic", "dx": -46.5, "dy": 48.5},
          "encoding": {"x": {"datum": 550, "type": "quantitative", "axis": null}, "y": {"datum": 2, "type": "quantitative", "axis": null}}
        },
        {
          "data": {"values": [{}]},
          "mark": {"type": "text", "text": "1/2", "fontSize": 14, "align": "left", "baseline": "alphabetic", "dx": -29.5, "dy": 55},
          "encoding": {"x": {"datum": 550, "type": "quantitative", "axis": null}, "y": {"datum": 2, "type": "quantitative", "axis": null}}
        },
        {
          "data": {"values": [{}]},
          "mark": {"type": "text", "text": "(GeV)", "fontSize": 20, "align": "left", "baseline": "alphabetic", "dx": -8, "dy": 48.5},
          "encoding": {"x": {"datum": 550, "type": "quantitative", "axis": null}, "y": {"datum": 2, "type": "quantitative", "axis": null}}
        }
      ],
      "resolve": {"axis": {"x": "independent", "y": "independent"}}
    },
    {
      "width": 43,
      "height": 394,
      "layer": [
        {
          "data": {"name": "bands"},
          "mark": {"type": "rect"},
          "encoding": {
            "x": {"datum": 0, "type": "quantitative", "scale": {"domain": [0, 1], "nice": false, "zero": false}, "axis": null},
            "x2": {"datum": 1},
            "y": {"field": "lo", "type": "quantitative", "scale": {"domain": [-6.775, -4.695], "nice": false, "zero": false}, "axis": {"orient": "left", "values": [-6.5, -6, -5.5, -5], "labels": false, "domain": false, "tickSize": -4, "title": null}},
            "y2": {"field": "hi"},
            "color": {"field": "lo", "type": "quantitative", "scale": {"type": "linear", "domain": [-6.775, -6.5475, -6.0275, -5.5075, -4.9875, -4.7275], "range": ["#000090", "#0000ff", "#00ffff", "#ffff00", "#ff0000", "#800000"], "interpolate": "rgb", "clamp": true}, "legend": null}
          }
        },
        {
          "data": {"values": [{}]},
          "mark": {"type": "text", "text": "log", "fontSize": 20, "align": "left", "baseline": "alphabetic", "dx": -20, "dy": -24},
          "encoding": {
            "x": {"datum": 0, "type": "quantitative", "axis": null},
            "y": {"datum": -4.695, "type": "quantitative", "axis": {"orient": "right", "values": [-6.5, -6, -5.5, -5], "format": "~g", "domain": false, "tickSize": -4, "labelPadding": 6, "title": null}}
          }
        },
        {
          "data": {"values": [{}]},
          "mark": {"type": "text", "text": "10", "fontSize": 15, "align": "left", "baseline": "alphabetic", "dx": 8.5, "dy": -17},
          "encoding": {"x": {"datum": 0, "type": "quantitative", "axis": null}, "y": {"datum": -4.695, "type": "quantitative", "axis": null}}
        },
        {
          "data": {"values": [{}]},
          "mark": {"type": "text", "text": "λ'", "fontSize": 20, "align": "left", "baseline": "alphabetic", "dx": 24, "dy": -24},
          "encoding": {"x": {"datum": 0, "type": "quantitative", "axis": null}, "y": {"datum": -4.695, "type": "quantitative", "axis": null}}
        },
        {
          "data": {"values": [{}]},
          "mark": {"type": "text", "text": "max", "fontSize": 16, "align": "left", "baseline": "alphabetic", "dx": 40, "dy": -34.3},
          "encoding": {"x": {"datum": 0, "type": "quantitative", "axis": null}, "y": {"datum": -4.695, "type": "quantitative", "axis": null}}
        },
        {
          "data": {"values": [{}]},
          "mark": {"type": "text", "text": "333", "fontSize": 16, "align": "left", "baseline": "alphabetic", "dx": 40, "dy": -17.7},
          "encoding": {"x": {"datum": 0, "type": "quantitative", "axis": null}, "y": {"datum": -4.695, "type": "quantitative", "axis": null}}
        }
      ],
      "resolve": {"axis": {"y": "independent"}}
    }
  ]
}
